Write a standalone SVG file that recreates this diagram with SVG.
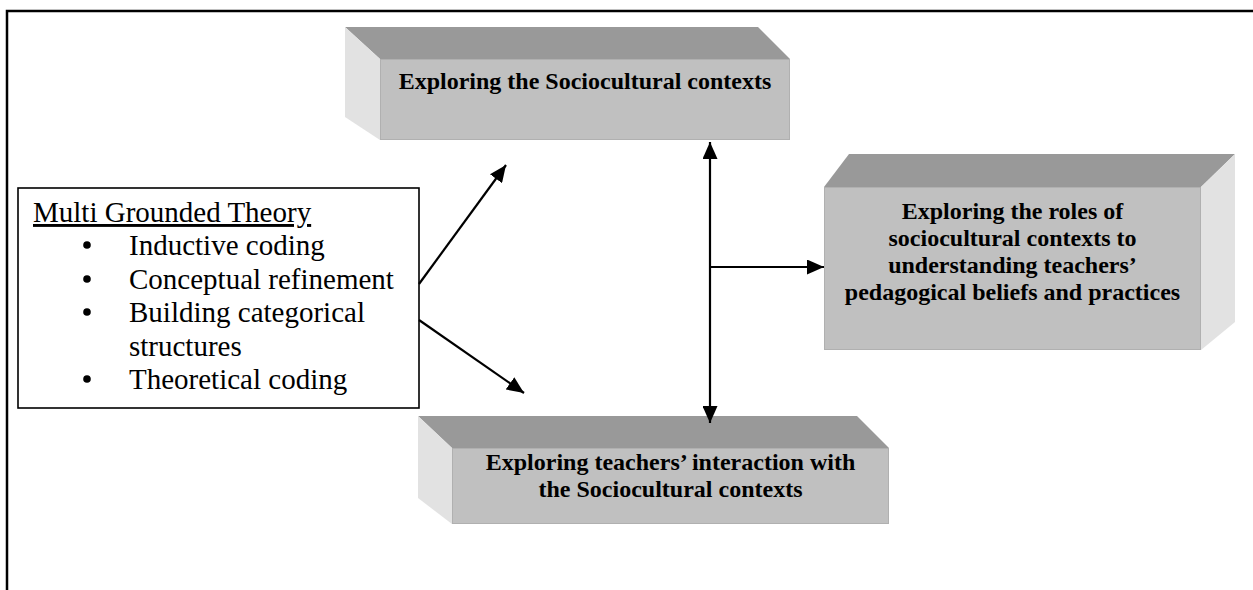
<svg xmlns="http://www.w3.org/2000/svg" width="1253" height="590" viewBox="0 0 1253 590">
  <style>
    .top { fill: #999999; }
    .front { fill: #c0c0c0; stroke: #b0b0b0; stroke-width: 1; }
    .side { fill: #e2e2e2; }
    .bold { font-family: "Liberation Serif", "Times New Roman", serif; font-weight: bold; font-size: 24px; fill: #000; text-anchor: middle; }
    .list { font-family: "Liberation Serif", "Times New Roman", serif; font-size: 29px; fill: #000; }
    .conn { stroke: #000; stroke-width: 2.2; fill: none; }
  </style>
  <defs>
    <marker id="ah" viewBox="0 0 17 15" markerWidth="17" markerHeight="15" refX="17" refY="7.5" markerUnits="userSpaceOnUse" orient="auto-start-reverse">
      <path d="M0,0 L17,7.5 L0,15 Z" fill="#000"/>
    </marker>
  </defs>
  <rect x="0" y="0" width="1253" height="590" fill="#fff"/>
  <g id="frame">
    <path d="M7,590 L7,11 L1253,11" fill="none" stroke="#000" stroke-width="2.5"/>
  </g>

  <g id="node-methods">
    <rect x="18" y="188" width="401" height="220" fill="#fff" stroke="#000" stroke-width="1.6"/>
    <text class="list" x="33" y="222" text-decoration="underline">Multi Grounded Theory</text>
    <circle cx="87" cy="245" r="3.8" fill="#000"/>
    <text class="list" x="129" y="255">Inductive coding</text>
    <circle cx="87" cy="279" r="3.8" fill="#000"/>
    <text class="list" x="129" y="289">Conceptual refinement</text>
    <circle cx="87" cy="312" r="3.8" fill="#000"/>
    <text class="list" x="129" y="322">Building categorical</text>
    <text class="list" x="129" y="356">structures</text>
    <circle cx="87" cy="379" r="3.8" fill="#000"/>
    <text class="list" x="129" y="389">Theoretical coding</text>
  </g>

  <g id="node-sociocultural">
    <polygon class="top" points="345,27 758,27 790,59 380,59"/>
    <polygon class="side" points="345,27 380,59 380,140 345,117"/>
    <rect class="front" x="380.5" y="59.5" width="409" height="80"/>
    <text class="bold" x="585" y="89">Exploring the Sociocultural contexts</text>
  </g>

  <g id="node-roles">
    <polygon class="top" points="849,154 1235,154 1201,187 824,187"/>
    <polygon class="side" points="1201,187 1235,154 1235,322 1201,350"/>
    <rect class="front" x="824.5" y="187.5" width="376" height="162"/>
    <text class="bold" x="1012.5" y="219">Exploring the roles of</text>
    <text class="bold" x="1012.5" y="246">sociocultural contexts to</text>
    <text class="bold" x="1012.5" y="273">understanding teachers’</text>
    <text class="bold" x="1012.5" y="300">pedagogical beliefs and practices</text>
  </g>

  <g id="node-interaction">
    <polygon class="top" points="418,416 857,416 889,448 452,448"/>
    <polygon class="side" points="418,416 452,448 452,524 418,498"/>
    <rect class="front" x="452.5" y="448.5" width="436" height="75"/>
    <text class="bold" x="670.5" y="470">Exploring teachers’ interaction with</text>
    <text class="bold" x="670.5" y="497">the Sociocultural contexts</text>
  </g>

  <g id="connectors">
    <line class="conn" x1="419" y1="284" x2="506" y2="165" marker-end="url(#ah)"/>
    <line class="conn" x1="419" y1="320" x2="524" y2="393" marker-end="url(#ah)"/>
    <line class="conn" x1="710" y1="142" x2="710" y2="423" marker-start="url(#ah)" marker-end="url(#ah)"/>
    <line class="conn" x1="710" y1="267" x2="824" y2="267" marker-end="url(#ah)"/>
  </g>
</svg>
